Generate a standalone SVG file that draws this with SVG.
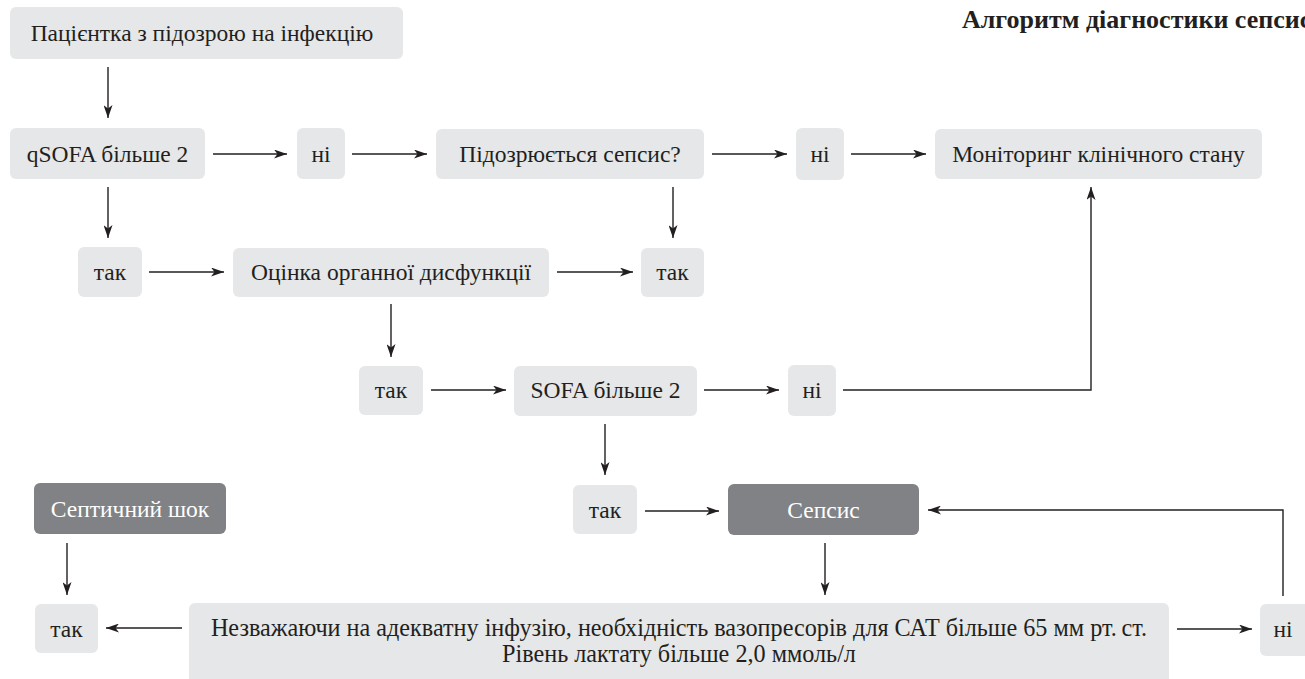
<svg xmlns="http://www.w3.org/2000/svg" width="1305" height="679" viewBox="0 0 1305 679">
<style>
.n{fill:#e6e7e8}
.d{fill:#808285}
.t{font-family:"Liberation Serif","DejaVu Serif",serif;font-size:23.5px;fill:#231f20;text-anchor:middle}
.big{font-size:24.2px}
.w{fill:#ffffff}
.c line,.c polyline{stroke:#231f20;stroke-width:1.4;fill:none;marker-end:url(#ah)}
.title{font-family:"Liberation Serif","DejaVu Serif",serif;font-size:26px;font-weight:bold;fill:#231f20}
</style>
<defs>
<marker id="ah" viewBox="0 0 13 9" refX="13" refY="4.5" markerWidth="13" markerHeight="9" markerUnits="userSpaceOnUse" orient="auto">
<path d="M0,0 L13,4.5 L0,9 L3.5,4.5 z" fill="#231f20"/>
</marker>
</defs>
<rect width="1305" height="679" fill="#ffffff"/>
<text class="title" x="962" y="28">Алгоритм діагностики сепсис</text>
<g id="n1"><rect class="n" x="10" y="7" width="393" height="52" rx="6"/><text class="t" x="202" y="41">Пацієнтка з підозрою на інфекцію</text></g>
<g id="qsofa"><rect class="n" x="10" y="128" width="195" height="51" rx="6"/><text class="t" x="107.5" y="162">qSOFA більше 2</text></g>
<g id="ni1"><rect class="n" x="297" y="128" width="48" height="51" rx="6"/><text class="t" x="321" y="162">ні</text></g>
<g id="suspect"><rect class="n" x="436" y="129" width="268" height="50" rx="6"/><text class="t" x="570" y="162">Підозрюється сепсис?</text></g>
<g id="ni2"><rect class="n" x="796" y="128" width="48" height="52" rx="6"/><text class="t" x="820" y="162">ні</text></g>
<g id="monitor"><rect class="n" x="935" y="129" width="327" height="50" rx="6"/><text class="t" x="1098.5" y="162">Моніторинг клінічного стану</text></g>
<g id="tak1"><rect class="n" x="78" y="247" width="64" height="50" rx="6"/><text class="t" x="110" y="280">так</text></g>
<g id="organ"><rect class="n" x="233" y="248" width="316" height="49" rx="6"/><text class="t" x="391" y="280">Оцінка органної дисфункції</text></g>
<g id="tak2"><rect class="n" x="641" y="248" width="63" height="49" rx="6"/><text class="t" x="672.5" y="280">так</text></g>
<g id="tak3"><rect class="n" x="359" y="366" width="64" height="49" rx="6"/><text class="t" x="391" y="398">так</text></g>
<g id="sofa"><rect class="n" x="514" y="366" width="183" height="50" rx="6"/><text class="t" x="605.5" y="398">SOFA більше 2</text></g>
<g id="ni3"><rect class="n" x="788" y="365" width="48" height="51" rx="6"/><text class="t" x="812" y="398">ні</text></g>
<g id="septic"><rect class="d" x="34" y="483" width="192" height="51" rx="6"/><text class="t w" x="130" y="517">Септичний шок</text></g>
<g id="tak4"><rect class="n" x="573" y="485" width="64" height="49" rx="6"/><text class="t" x="605" y="518">так</text></g>
<g id="sepsis"><rect class="d" x="728" y="484" width="191" height="51" rx="6"/><text class="t w" x="823.5" y="518">Сепсис</text></g>
<g id="tak5"><rect class="n" x="35" y="604" width="63" height="49" rx="6"/><text class="t" x="66.5" y="637">так</text></g>
<g id="criteria"><rect class="n" x="189" y="603" width="980" height="95" rx="6"/><text class="t big" x="679" y="636">Незважаючи на адекватну інфузію, необхідність вазопресорів для САТ більше 65 мм рт.&#8201;ст.</text><text class="t big" x="679" y="662">Рівень лактату більше 2,0 ммоль/л</text></g>
<g id="ni4"><rect class="n" x="1260" y="604" width="52" height="52" rx="6"/><text class="t" x="1283" y="637">ні</text></g>
<g class="c" id="connectors">
<line x1="108" y1="67" x2="108" y2="118"/>
<line x1="213" y1="154" x2="287" y2="154"/>
<line x1="352" y1="154" x2="427" y2="154"/>
<line x1="712" y1="154" x2="787" y2="154"/>
<line x1="851" y1="154" x2="926" y2="154"/>
<line x1="108" y1="187" x2="108" y2="238"/>
<line x1="673" y1="187" x2="673" y2="238"/>
<line x1="149" y1="272" x2="224" y2="272"/>
<line x1="557" y1="272" x2="633" y2="272"/>
<line x1="391" y1="304" x2="391" y2="357"/>
<line x1="431" y1="390" x2="506" y2="390"/>
<line x1="704" y1="390" x2="779" y2="390"/>
<polyline points="843,390 1091,390 1091,187"/>
<line x1="605" y1="424" x2="605" y2="475"/>
<line x1="645" y1="511" x2="719" y2="511"/>
<polyline points="1283,596 1283,510 928,510"/>
<line x1="67" y1="543" x2="67" y2="595"/>
<line x1="825" y1="543" x2="825" y2="595"/>
<line x1="182" y1="628" x2="106" y2="628"/>
<line x1="1177" y1="629" x2="1252" y2="629"/>
</g>
</svg>
